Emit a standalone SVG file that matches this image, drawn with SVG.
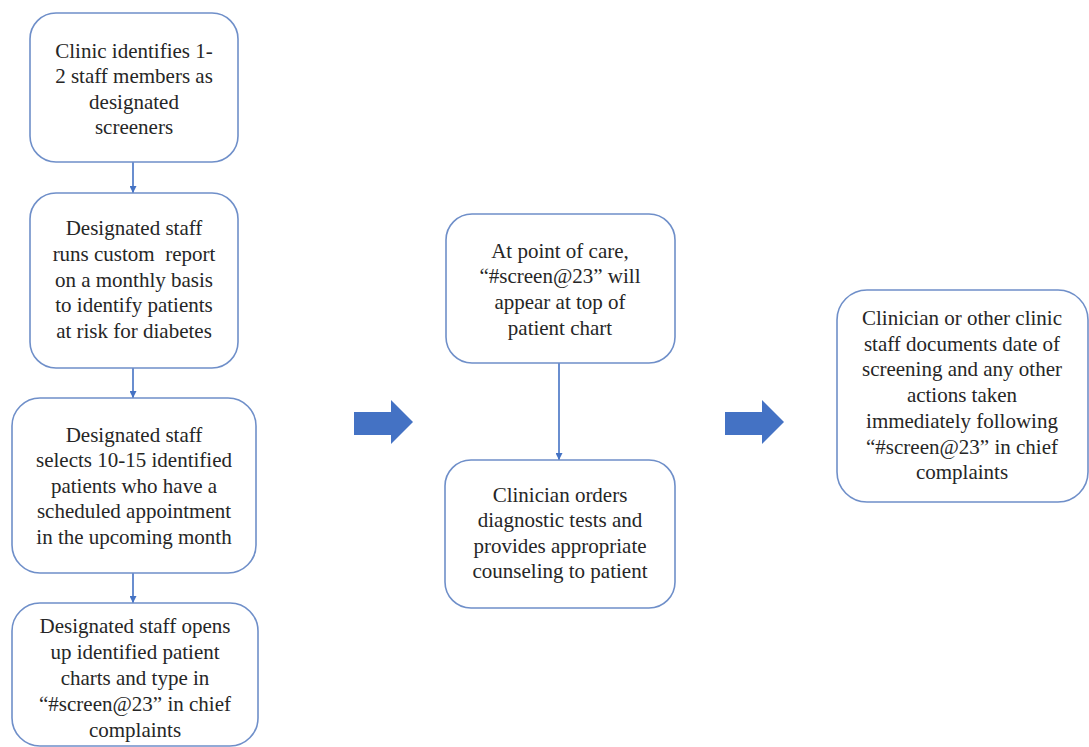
<svg xmlns="http://www.w3.org/2000/svg" width="1089" height="747" viewBox="0 0 1089 747">
  <defs>
    <style>
      .box { fill: #ffffff; stroke: #6f8fc9; stroke-width: 1.6; }
      .lbl { font-family: 'Liberation Serif', serif; font-size: 21px; fill: #262626; text-anchor: middle; }
      .link { stroke: #4472c4; stroke-width: 1.6; fill: none; marker-end: url(#tip); }
      .bigarrow { fill: #4472c4; }
    </style>
    <marker id="tip" viewBox="0 0 10 10" refX="10" refY="5" markerWidth="7" markerHeight="7" markerUnits="userSpaceOnUse" orient="auto">
      <path d="M0,0 L10,5 L0,10 z" fill="#4472c4"/>
    </marker>
  </defs>
  <rect width="1089" height="747" fill="#ffffff"/>

  <!-- connectors -->
  <g id="connectors">
    <line class="link" x1="133" y1="162" x2="133" y2="193"/>
    <line class="link" x1="133" y1="368" x2="133" y2="398"/>
    <line class="link" x1="133" y1="573" x2="133" y2="603"/>
    <line class="link" x1="559" y1="363" x2="559" y2="460"/>
    <path class="bigarrow" d="M354,412 H391 V400 L413,422 L391,444 V435 H354 Z"/>
    <path class="bigarrow" d="M725,412 H762 V400 L784,422 L762,444 V435 H725 Z"/>
  </g>

  <g id="step-identify-screeners">
    <rect class="box" x="30" y="13" width="208" height="149" rx="26"/>
    <text class="lbl" font-family="Liberation Serif, serif"><tspan x="134" y="57.5">Clinic identifies 1-</tspan><tspan x="134" y="83">2 staff members as</tspan><tspan x="134" y="108.5">designated</tspan><tspan x="134" y="134">screeners</tspan></text>
  </g>

  <g id="step-run-report">
    <rect class="box" x="30" y="193" width="208" height="175" rx="26"/>
    <text class="lbl" xml:space="preserve"><tspan x="134" y="235">Designated staff</tspan><tspan x="134" y="260.75">runs custom  report</tspan><tspan x="134" y="286.5">on a monthly basis</tspan><tspan x="134" y="312.25">to identify patients</tspan><tspan x="134" y="338">at risk for diabetes</tspan></text>
  </g>

  <g id="step-select-patients">
    <rect class="box" x="12" y="398" width="244" height="175" rx="28"/>
    <text class="lbl"><tspan x="134" y="441.5">Designated staff</tspan><tspan x="134" y="467">selects 10-15 identified</tspan><tspan x="134" y="492.5">patients who have a</tspan><tspan x="134" y="518">scheduled appointment</tspan><tspan x="134" y="543.5">in the upcoming month</tspan></text>
  </g>

  <g id="step-tag-charts">
    <rect class="box" x="12" y="603" width="246" height="143" rx="28"/>
    <text class="lbl"><tspan x="135" y="632.5">Designated staff opens</tspan><tspan x="135" y="658.5">up identified patient</tspan><tspan x="135" y="684.5">charts and type in</tspan><tspan x="135" y="710.5">“#screen@23” in chief</tspan><tspan x="135" y="736.5">complaints</tspan></text>
  </g>

  <g id="step-point-of-care">
    <rect class="box" x="446" y="214" width="229" height="149" rx="26"/>
    <text class="lbl"><tspan x="560" y="257.5">At point of care,</tspan><tspan x="560" y="283.3">“#screen@23” will</tspan><tspan x="560" y="309.1">appear at top of</tspan><tspan x="560" y="335">patient chart</tspan></text>
  </g>

  <g id="step-diagnostics">
    <rect class="box" x="445" y="460" width="230" height="148" rx="26"/>
    <text class="lbl"><tspan x="560" y="501.5">Clinician orders</tspan><tspan x="560" y="527">diagnostic tests and</tspan><tspan x="560" y="552.5">provides appropriate</tspan><tspan x="560" y="578">counseling to patient</tspan></text>
  </g>

  <g id="step-document">
    <rect class="box" x="837" y="290" width="251" height="212" rx="30"/>
    <text class="lbl"><tspan x="962" y="325">Clinician or other clinic</tspan><tspan x="962" y="350.7">staff documents date of</tspan><tspan x="962" y="376.4">screening and any other</tspan><tspan x="962" y="402.1">actions taken</tspan><tspan x="962" y="427.8">immediately following</tspan><tspan x="962" y="453.5">“#screen@23” in chief</tspan><tspan x="962" y="479.2">complaints</tspan></text>
  </g>
</svg>
